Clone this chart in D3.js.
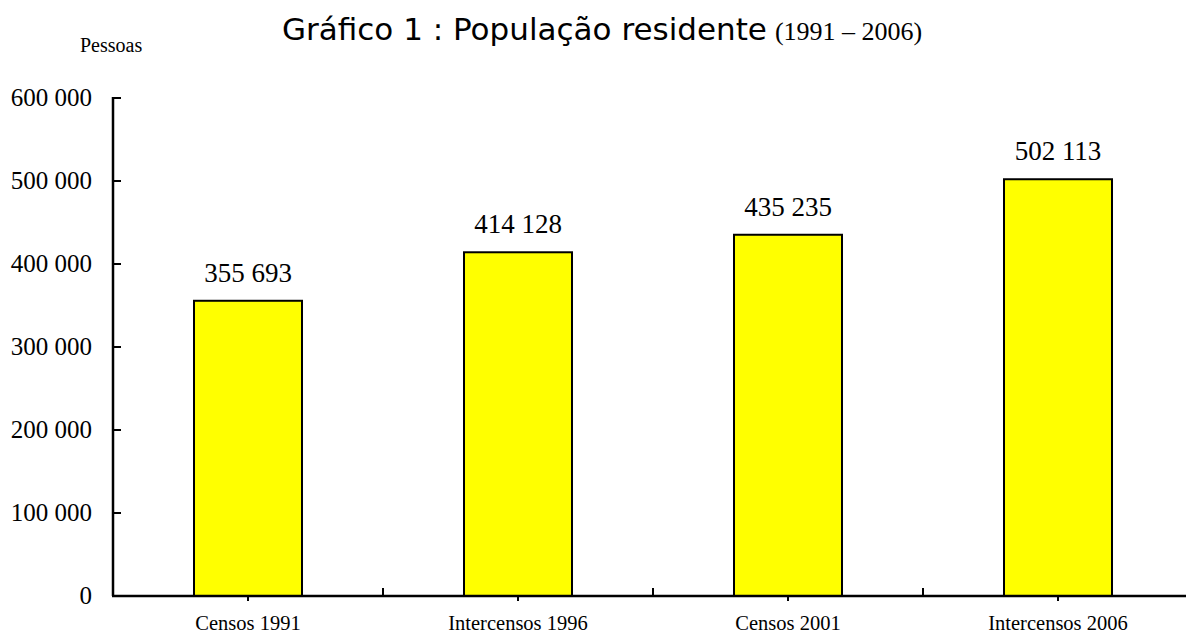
<!DOCTYPE html>
<html><head><meta charset="utf-8">
<script src="https://cdn.jsdelivr.net/npm/d3@7"></script>
<style>body{margin:0;background:#fff}svg{display:block}</style>
</head><body>
<script>
const categories = ["Censos 1991", "Intercensos 1996", "Censos 2001", "Intercensos 2006"];
const values = [355693, 414128, 435235, 502113];
const yTicks = [0, 100000, 200000, 300000, 400000, 500000, 600000];
const titleMain = "Gráfico 1 : População residente";
const titleSub = "(1991 – 2006)";
const yUnit = "Pessoas";

const W = 1186, H = 636;
const svg = d3.select("body").append("svg").attr("width", W).attr("height", H);
const fmt = v => d3.format(",")(v).replace(/,/g, " ");

const x0 = 113, step = 270;
const x = d3.scaleBand().domain(categories).range([x0, x0 + step * categories.length]).paddingInner(0).paddingOuter(0);
const y = d3.scaleLinear().domain([0, 600000]).range([596, 98]);
const barW = x.bandwidth() * 0.4;

// bars
svg.selectAll("rect.bar").data(values).enter().append("rect")
  .attr("x", (d, i) => x(categories[i]) + x.bandwidth() / 2 - barW / 2)
  .attr("y", d => y(d))
  .attr("width", barW)
  .attr("height", d => y(0) - y(d))
  .attr("fill", "#ffff00").attr("stroke", "#000").attr("stroke-width", 2);

// value labels
svg.selectAll("text.val").data(values).enter().append("text")
  .attr("x", (d, i) => x(categories[i]) + x.bandwidth() / 2)
  .attr("y", d => y(d) - 19)
  .attr("text-anchor", "middle")
  .attr("font-family", "'Liberation Serif', 'Times New Roman', serif")
  .attr("font-size", 27).attr("fill", "#000")
  .text(d => fmt(d));

// y axis
const yAxis = svg.append("g");
yAxis.append("line").attr("x1", x0).attr("x2", x0).attr("y1", y(600000) - 1).attr("y2", y(0))
  .attr("stroke", "#000").attr("stroke-width", 2.5);
yAxis.selectAll("line.t").data(yTicks).enter().append("line")
  .attr("x1", x0).attr("x2", x0 + 8).attr("y1", d => y(d)).attr("y2", d => y(d))
  .attr("stroke", "#000").attr("stroke-width", 2);
yAxis.selectAll("text").data(yTicks).enter().append("text")
  .attr("x", 92).attr("y", d => y(d) + 8)
  .attr("text-anchor", "end")
  .attr("font-family", "'Liberation Serif', 'Times New Roman', serif")
  .attr("font-size", 25).attr("fill", "#000")
  .text(d => fmt(d));

// x axis
const xAxis = svg.append("g");
xAxis.append("line").attr("x1", x0 - 1).attr("x2", W).attr("y1", y(0)).attr("y2", y(0))
  .attr("stroke", "#000").attr("stroke-width", 2.5);
// boundary ticks (upward)
xAxis.selectAll("line.b").data(categories.slice(1)).enter().append("line")
  .attr("x1", d => x(d)).attr("x2", d => x(d)).attr("y1", y(0)).attr("y2", y(0) - 8)
  .attr("stroke", "#000").attr("stroke-width", 2);
// center ticks (downward)
xAxis.selectAll("line.c").data(categories).enter().append("line")
  .attr("x1", d => x(d) + x.bandwidth() / 2).attr("x2", d => x(d) + x.bandwidth() / 2)
  .attr("y1", y(0)).attr("y2", y(0) + 5)
  .attr("stroke", "#000").attr("stroke-width", 2);
xAxis.selectAll("text").data(categories).enter().append("text")
  .attr("x", d => x(d) + x.bandwidth() / 2).attr("y", 630)
  .attr("text-anchor", "middle")
  .attr("font-family", "'Liberation Serif', 'Times New Roman', serif")
  .attr("font-size", 20.5).attr("fill", "#000")
  .text(d => d);

// unit label
svg.append("text").attr("x", 80).attr("y", 52)
  .attr("font-family", "'Liberation Serif', 'Times New Roman', serif")
  .attr("font-size", 20).attr("fill", "#000").text(yUnit);

// title
const t = svg.append("text").attr("x", 282).attr("y", 40).attr("fill", "#000");
t.append("tspan").attr("font-family", "'DejaVu Sans', sans-serif").attr("font-size", 31).text(titleMain);
t.append("tspan").attr("font-family", "'Liberation Serif', 'Times New Roman', serif").attr("font-size", 26).attr("dx", 8).text(titleSub);
</script>
</body></html>
